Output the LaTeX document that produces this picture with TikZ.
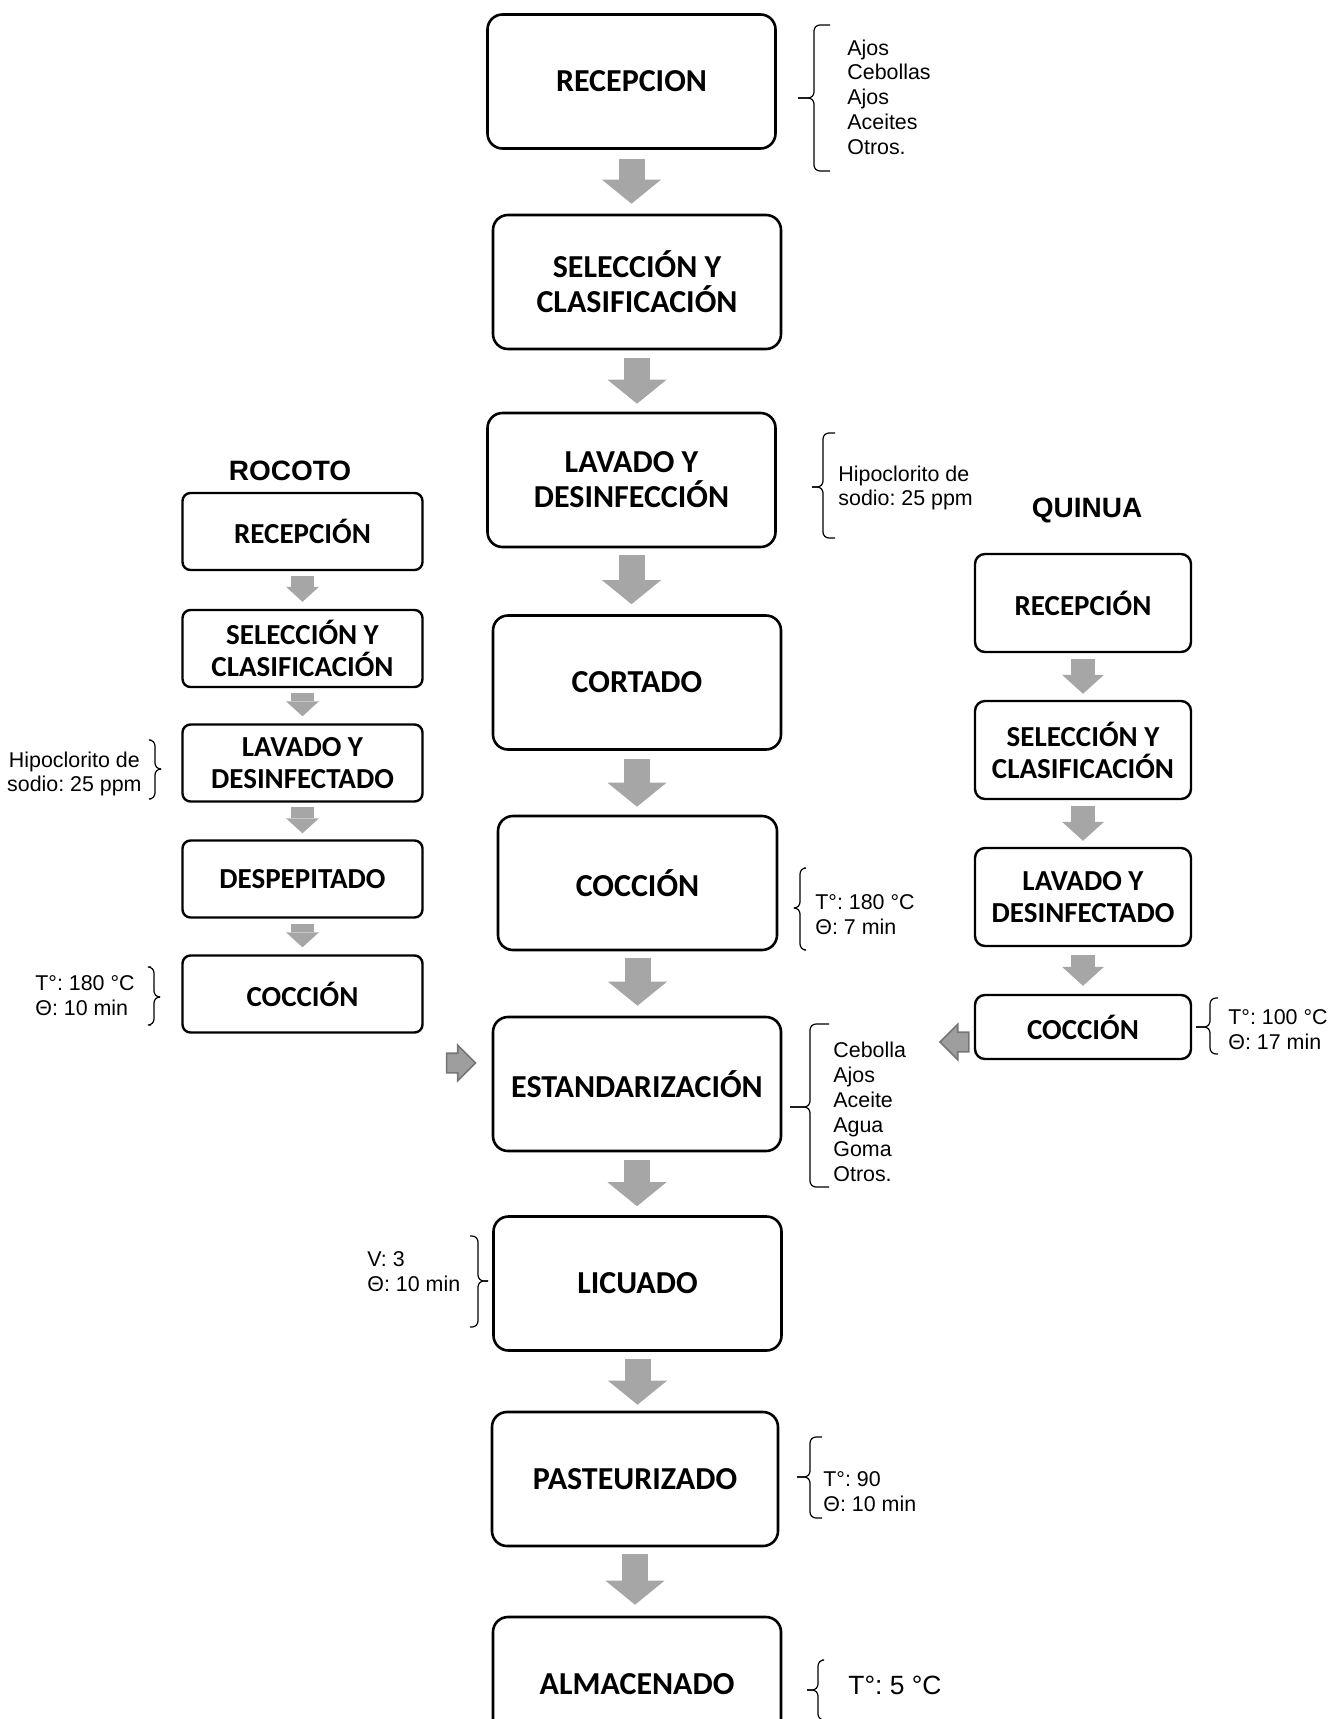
\documentclass[tikz,border=0pt]{standalone}
\usepackage{fontspec}
\setmainfont{Liberation Sans}
\newfontfamily\calibri{Carlito}
\usepackage{tikz}
\usetikzlibrary{arrows.meta,calc,shapes.arrows}
\definecolor{flechagris}{RGB}{166,166,166}
\definecolor{lateralgris}{RGB}{158,158,158}
\definecolor{bordegris}{RGB}{118,118,118}
\frenchspacing
\tikzset{
  paso/.style={draw,line width=1.3pt,rounded corners=7.5pt,align=center,inner sep=0pt,
               minimum width=144pt,minimum height=67pt,
               font=\calibri\bfseries\fontsize{16}{17.5}\selectfont},
  pasor/.style={paso,line width=1.2pt,rounded corners=4pt,minimum width=120pt,minimum height=38.5pt,
                font=\calibri\bfseries\fontsize{14.5}{16}\selectfont},
  pasoq/.style={pasor,rounded corners=5pt,minimum width=108pt,minimum height=49pt},
  flecha/.style={draw=flechagris,line width=13pt,
                 -{Triangle[width=29.5pt,length=12pt,line width=0pt]}},
  flechar/.style={flecha,line width=11.5pt,-{Triangle[width=16.5pt,length=7.5pt,line width=0pt]}},
  flechaq/.style={flecha,line width=12pt,-{Triangle[width=21pt,length=9.5pt,line width=0pt]}},
  lateral/.style={single arrow,draw=bordegris,fill=lateralgris,line width=0.8pt,
                  inner xsep=0pt,inner ysep=4.5pt,minimum height=14.5pt,
                  single arrow head extend=4pt},
  nota/.style={font=\fontsize{10.7}{12.4}\selectfont,inner sep=0pt,align=left},
  titulo/.style={font=\bfseries\fontsize{14}{16}\selectfont,inner sep=0pt},
  llave/.style={draw,line width=0.6pt,rounded corners=3pt},
}

\begin{document}
\begin{tikzpicture}[x=0.5pt,y=-0.5pt]
  \useasboundingbox (0,0) rectangle (1341,1719);

  % linea principal
  \node[paso] (recep)   at (631.5,81.5) {RECEPCION};
  \node[paso] (selec)   at (637,282)    {SELECCIÓN Y\\CLASIFICACIÓN};
  \node[paso] (lavado)  at (631.5,480)  {LAVADO Y\\DESINFECCIÓN};
  \node[paso] (cortado) at (637,682.5)  {CORTADO};
  \node[paso,minimum width=139.5pt] (coccion) at (637.5,883) {COCCIÓN};
  \node[paso] (estand)  at (637,1084)   {ESTANDARIZACIÓN};
  \node[paso] (licuado) at (637.5,1283.5) {LICUADO};
  \node[paso,minimum width=143pt] (pasteur) at (635,1479) {PASTEURIZADO};
  \node[paso] (almac)   at (637,1684)   {ALMACENADO};

  \draw[flecha] ($(recep.south)+(0,9)$)   -- ($(recep.south |- selec.north)+(0,-10)$);
  \draw[flecha] ($(selec.south)+(0,8)$)   -- ($(selec.south |- lavado.north)+(0,-8)$);
  \draw[flecha] ($(lavado.south)+(0,7)$)  -- ($(lavado.south |- cortado.north)+(0,-10)$);
  \draw[flecha] ($(cortado.south)+(0,8)$) -- ($(cortado.south |- coccion.north)+(0,-8)$);
  \draw[flecha] ($(coccion.south)+(0,7)$) -- ($(coccion.south |- estand.north)+(0,-10)$);
  \draw[flecha] ($(estand.south)+(0,8)$)  -- ($(estand.south |- licuado.north)+(0,-9)$);
  \draw[flecha] ($(licuado.south)+(0,7)$) -- ($(licuado.south |- pasteur.north)+(0,-6)$);
  \draw[flecha] ($(pasteur.south)+(0,7)$) -- ($(pasteur.south |- almac.north)+(0,-11)$);

  % rocoto
  \node[titulo] (troc) at (290,471) {ROCOTO};
  \node[pasor] (rrecep)  at (302.5,531.5) {RECEPCIÓN};
  \node[pasor] (rselec)  at (302.5,648.5) {SELECCIÓN Y\\CLASIFICACIÓN};
  \node[pasor] (rlavado) at (302.5,763)   {LAVADO Y\\DESINFECTADO};
  \node[pasor] (rdesp)   at (302.5,879)   {DESPEPITADO};
  \node[pasor] (rcocc)   at (302.5,994)   {COCCIÓN};

  \draw[flechar] ($(rrecep.south)+(0,5)$)  -- ($(rselec.north)+(0,-7)$);
  \draw[flechar] ($(rselec.south)+(0,5)$)  -- ($(rlavado.north)+(0,-7)$);
  \draw[flechar] ($(rlavado.south)+(0,4)$) -- ($(rdesp.north)+(0,-6)$);
  \draw[flechar] ($(rdesp.south)+(0,5)$)   -- ($(rcocc.north)+(0,-7)$);

  % quinua
  \node[titulo] (tqui) at (1087,510) {QUINUA};
  \node[pasoq] (qrecep)  at (1083,603) {RECEPCIÓN};
  \node[pasoq] (qselec)  at (1083,750) {SELECCIÓN Y\\CLASIFICACIÓN};
  \node[pasoq] (qlavado) at (1083,897) {LAVADO Y\\DESINFECTADO};
  \node[pasoq,minimum height=32pt] (qcocc) at (1083,1027) {COCCIÓN};

  \draw[flechaq] ($(qrecep.south)+(0,6)$)  -- ($(qselec.north)+(0,-6)$);
  \draw[flechaq] ($(qselec.south)+(0,6)$)  -- ($(qlavado.north)+(0,-6)$);
  \draw[flechaq] ($(qlavado.south)+(0,8)$) -- ($(qcocc.north)+(0,-8)$);

  % entradas a la estandarizacion
  \node[lateral,anchor=tip] (entroc) at ([shift={(-15,-21)}]estand.west) {};
  \node[lateral,shape border rotate=180,anchor=tip] (entqui) at ([shift={(-35,15)}]qcocc.west) {};

  % llaves y condiciones
  \draw[llave] (830,25) -- (814,25) -- (814,98) -- (798,98);
  \draw[llave] (798,98) -- (814,98) -- (814,171) -- (830,171);
  \node[nota,anchor=west] (insumos) at (847,97) {Ajos\\Cebollas\\Ajos\\Aceites\\Otros.};

  \draw[llave] (835,433) -- (823,433) -- (823,487) -- (812,487);
  \draw[llave] (812,487) -- (823,487) -- (823,538) -- (835,538);
  \node[nota,anchor=west] (hipo) at (838,488) {Hipoclorito de\\sodio: 25 ppm};

  \draw[llave] (804,868) -- (800,868) -- (800,908) -- (795,908);
  \draw[llave] (795,908) -- (800,908) -- (800,950) -- (804,950);
  \node[nota,anchor=west] (ccoc) at (815,915) {T°: 180 °C\\Θ: 7 min};

  \draw[llave] (829,1024) -- (810,1024) -- (810,1107) -- (790,1107);
  \draw[llave] (790,1107) -- (810,1107) -- (810,1187) -- (829,1187);
  \node[nota,anchor=west] (aditivos) at (833,1112) {Cebolla\\Ajos\\Aceite\\Agua\\Goma\\Otros.};

  \draw[llave] (470,1236) -- (478,1236) -- (478,1281) -- (488,1281);
  \draw[llave] (488,1281) -- (478,1281) -- (478,1327) -- (470,1327);
  \node[nota,anchor=west] (cliq) at (367,1272) {V: 3\\Θ: 10 min};

  \draw[llave] (822,1437) -- (810,1437) -- (810,1477) -- (797,1477);
  \draw[llave] (797,1477) -- (810,1477) -- (810,1518) -- (822,1518);
  \node[nota,anchor=west] (cpast) at (823,1492) {T°: 90\\Θ: 10 min};

  \draw[llave] (822,1660) -- (818,1660) -- (818,1690) -- (807,1690);
  \draw[llave] (807,1690) -- (818,1690) -- (818,1720) -- (822,1720);
  \node[nota,anchor=west,font=\fontsize{13.2}{15}\selectfont] (calm) at (848,1685) {T°: 5 °C};

  \draw[llave] (151,740) -- (155,740) -- (155,769) -- (160,769);
  \draw[llave] (160,769) -- (155,769) -- (155,799) -- (151,799);
  \node[nota,anchor=east,align=center] (rhipo) at (142,774) {Hipoclorito de\\sodio: 25 ppm};

  \draw[llave] (151,967) -- (154,967) -- (154,997) -- (158,997);
  \draw[llave] (158,997) -- (154,997) -- (154,1025) -- (151,1025);
  \node[nota,anchor=west] (rccoc) at (35,996) {T°: 180 °C\\Θ: 10 min};

  \draw[llave] (1218,998) -- (1210,998) -- (1210,1027) -- (1196,1027);
  \draw[llave] (1196,1027) -- (1210,1027) -- (1210,1054) -- (1218,1054);
  \node[nota,anchor=west] (qccoc) at (1228,1030) {T°: 100 °C\\Θ: 17 min};
\end{tikzpicture}
\end{document}
